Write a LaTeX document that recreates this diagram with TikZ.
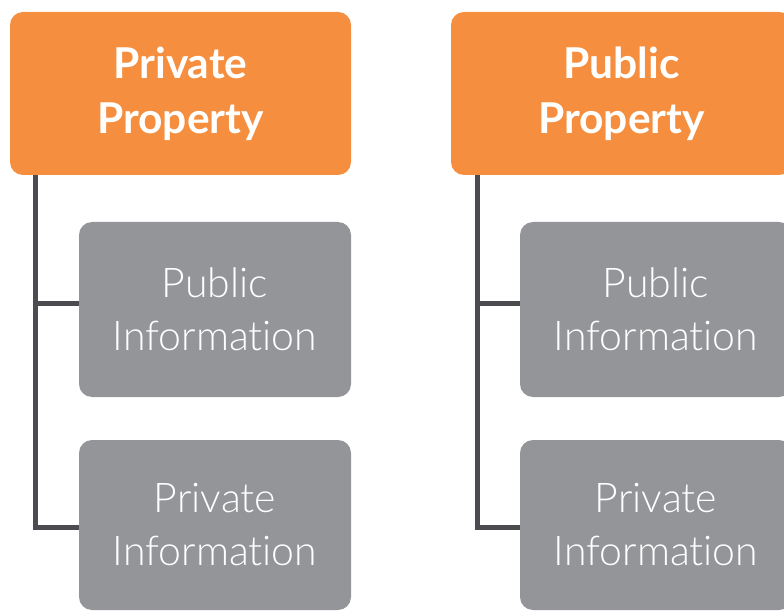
\documentclass[tikz,border=0pt]{standalone}
\usepackage{fontspec}
\newfontfamily\headfont{Lato}[UprightFont=* Bold, RawFeature=-liga]
\newfontfamily\bodyfont{Lato Light}[RawFeature=-liga]
\usetikzlibrary{calc}
\definecolor{orangebox}{HTML}{F58F3F}
\definecolor{graybox}{HTML}{939598}
\definecolor{connline}{HTML}{4B4B50}
\begin{document}
\begin{tikzpicture}[x=1pt,y=-1pt,
  headbox/.style={fill=orangebox, rounded corners=13pt, inner sep=0pt, text=white,
    font=\headfont\fontsize{42.5}{55}\selectfont, align=center},
  infobox/.style={fill=graybox, rounded corners=13pt, inner sep=0pt, text=white,
    font=\bodyfont\fontsize{41}{53}\selectfont, align=center},
  conn/.style={draw=connline, line width=5pt}]
\useasboundingbox (0,0) rectangle (784,612);
\begin{scope}
\clip (0,0) rectangle (784,612);
% left column
\node[headbox, minimum width=341pt, minimum height=163pt] (o1) at (180.5,93.5) {Private\\Property};
\node[infobox, minimum width=272pt, minimum height=175pt] (g1) at (215,309.5) {Public\\Information};
\node[infobox, minimum width=272pt, minimum height=170pt] (g2) at (215,525) {Private\\Information};
% right column
\node[headbox, minimum width=341pt, minimum height=163pt] (o2) at (621.5,93.5) {Public\\Property};
\node[infobox, minimum width=272pt, minimum height=175pt] (g3) at (656,309.5) {Public\\Information};
\node[infobox, minimum width=272pt, minimum height=170pt] (g4) at (656,525) {Private\\Information};
% connectors
\coordinate (c1) at ($(o1.south west)+(26,0)$);
\coordinate (c2) at ($(o2.south west)+(27,0)$);
\draw[conn] (c1) |- ([yshift=6pt]g1.west);
\draw[conn] (c1) |- ([yshift=-2pt]g2.west);
\draw[conn] (c2) |- ([yshift=6pt]g3.west);
\draw[conn] (c2) |- ([yshift=-2pt]g4.west);
\end{scope}
\end{tikzpicture}
\end{document}
